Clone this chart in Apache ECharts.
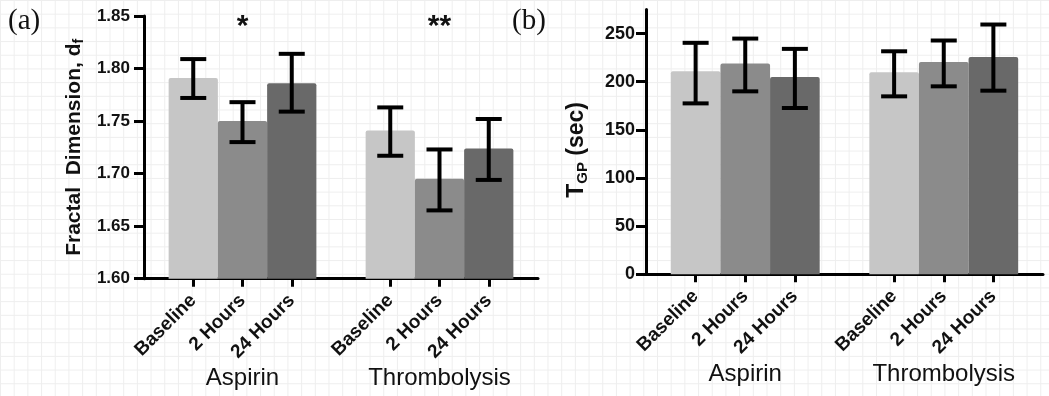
<!DOCTYPE html>
<html>
<head>
<meta charset="utf-8">
<script src="https://cdn.jsdelivr.net/npm/echarts@6/dist/echarts.min.js"></script>
<style>
html,body{margin:0;padding:0;}
body{
  width:1049px;height:396px;background:#fff;
  background-image:linear-gradient(#eeeeee 1px, transparent 1px),linear-gradient(90deg,#eeeeee 1px, transparent 1px);
  background-size:13.7px 13.7px;
}
#chart{width:1049px;height:396px;}
</style>
</head>
<body>
<div id="chart"></div>
<script>
// ---- data ----
var timePoints = ['Baseline', '2 Hours', '24 Hours'];
var groups = ['Aspirin', 'Thrombolysis'];
// panel (a): fractal dimension d_f (Aspirin x3, Thrombolysis x3)
var fdMean = [1.791, 1.750, 1.786, 1.741, 1.695, 1.724];
var fdLow  = [1.772, 1.730, 1.759, 1.717, 1.665, 1.694];
var fdHigh = [1.809, 1.768, 1.814, 1.763, 1.723, 1.752];
var fdSig  = ['', '*', '', '', '**', ''];
// panel (b): T_GP (sec)
var tgpMean = [210.8, 218.8, 205.0, 209.8, 220.6, 225.8];
var tgpLow  = [177.5, 190.0, 172.7, 184.8, 195.2, 190.7];
var tgpHigh = [240.4, 244.8, 234.1, 231.6, 242.8, 259.4];
var fdTicks = [1.60, 1.65, 1.70, 1.75, 1.80, 1.85];
var tgpTicks = [0, 50, 100, 150, 200, 250];

var barColors = ['#c6c6c6', '#8b8b8b', '#696969'];
var FONT = '"Liberation Sans", Arial, sans-serif';

// category slots: gap, 3 bars, gap, 3 bars, gap
var slots = ['gap0'];
var slotIndexOf = [];
groups.forEach(function (g, gi) {
  timePoints.forEach(function (t) {
    slotIndexOf.push(slots.length);
    slots.push(g + '|' + t);
  });
  slots.push('gap' + (gi + 1));
});
function isGap(v) { return String(v).indexOf('gap') === 0; }

function barData(mean) {
  var d = slots.map(function () { return null; });
  mean.forEach(function (v, i) {
    d[slotIndexOf[i]] = { value: v, itemStyle: { color: barColors[i % 3] } };
  });
  return d;
}
function errData(low, high, sig) {
  return low.map(function (l, i) { return [slotIndexOf[i], l, high[i], sig ? sig[i] : '']; });
}

function mainX(gridIndex) {
  return {
    type: 'category', gridIndex: gridIndex, data: slots, boundaryGap: false,
    axisLine: { show: true, lineStyle: { color: '#000', width: 3 } },
    axisTick: { show: true, length: 8, lineStyle: { color: '#000', width: 3 },
      interval: function (i, v) { return !isGap(v); } },
    axisLabel: { interval: function (i, v) { return !isGap(v); },
      formatter: function (v) { return isGap(v) ? '' : v.split('|')[1]; },
      rotate: 45, margin: 19, fontSize: 19, fontWeight: 'bold', color: '#111', fontFamily: FONT },
    splitLine: { show: false }
  };
}
function groupX(gridIndex) {
  return {
    type: 'category', gridIndex: gridIndex, data: groups, boundaryGap: true, position: 'bottom', offset: 88,
    axisLine: { show: false }, axisTick: { show: false }, splitLine: { show: false },
    axisLabel: { margin: 0, fontSize: 24, color: '#111', fontFamily: FONT }
  };
}

function errSeries(xi, yi, data) {
  return {
    type: 'custom', xAxisIndex: xi, yAxisIndex: yi, data: data, z: 5,
    renderItem: function (params, api) {
      var x = api.value(0);
      var lo = api.coord([x, api.value(1)]);
      var hi = api.coord([x, api.value(2)]);
      var half = 13;
      var st = { stroke: '#000', lineWidth: 4 };
      var children = [
        { type: 'line', shape: { x1: lo[0], y1: lo[1], x2: hi[0], y2: hi[1] }, style: st },
        { type: 'line', shape: { x1: lo[0] - half, y1: lo[1], x2: lo[0] + half, y2: lo[1] }, style: st },
        { type: 'line', shape: { x1: hi[0] - half, y1: hi[1], x2: hi[0] + half, y2: hi[1] }, style: st }
      ];
      var sig = data[params.dataIndex][3];
      if (sig) {
        var top = api.coord([x, 1.85]);
        children.push({ type: 'text', x: hi[0], y: top[1] - 4,
          style: { text: sig, fill: '#111', font: 'bold 30px ' + FONT, align: 'center', verticalAlign: 'top' } });
      }
      return { type: 'group', children: children };
    }
  };
}

var chart = echarts.init(document.getElementById('chart'), null, { renderer: 'canvas' });
chart.setOption({
  animation: false,
  grid: [
    { left: 144, top: 16, width: 394, height: 262.7 },
    { left: 646, top: 9.5, width: 397, height: 264.8 }
  ],
  xAxis: [mainX(0), groupX(0), mainX(1), groupX(1)],
  yAxis: [
    { type: 'value', gridIndex: 0, min: 1.60, max: 1.85, interval: 0.05,
      name: '{a|Fractal  Dimension, d}{s|f}', nameLocation: 'middle', nameGap: 58,
      nameTextStyle: { rich: {
        a: { fontSize: 21, fontWeight: 'bold', color: '#111', fontFamily: FONT, lineHeight: 24 },
        s: { fontSize: 14, fontWeight: 'bold', color: '#111', fontFamily: FONT, verticalAlign: 'bottom', lineHeight: 24 } } },
      axisLine: { show: true, lineStyle: { color: '#000', width: 3 } },
      axisTick: { show: true, length: 10, lineStyle: { color: '#000', width: 3 } },
      axisLabel: { margin: 14, fontSize: 17, fontWeight: 'bold', color: '#111', fontFamily: FONT,
        formatter: function (v) { return v.toFixed(2); } },
      splitLine: { show: false } },
    { type: 'value', gridIndex: 1, min: 0, max: 275, interval: 50,
      name: '{a|T}{s|GP}{a| (sec)}', nameLocation: 'middle', nameGap: 56,
      nameTextStyle: { padding: [0, 16, 0, 0], rich: {
        a: { fontSize: 23, fontWeight: 'bold', color: '#111', fontFamily: FONT, lineHeight: 26 },
        s: { fontSize: 15, fontWeight: 'bold', color: '#111', fontFamily: FONT, verticalAlign: 'bottom', lineHeight: 26 } } },
      axisLine: { show: true, lineStyle: { color: '#000', width: 3 } },
      axisTick: { show: true, length: 10, lineStyle: { color: '#000', width: 3 }, customValues: tgpTicks },
      axisLabel: { margin: 11, fontSize: 18, fontWeight: 'bold', color: '#111', fontFamily: FONT, customValues: tgpTicks },
      splitLine: { show: false } }
  ],
  series: [
    { type: 'bar', xAxisIndex: 0, yAxisIndex: 0, data: barData(fdMean), barWidth: '100%',
      itemStyle: { borderRadius: [2, 2, 0, 0] } },
    errSeries(0, 0, errData(fdLow, fdHigh, fdSig)),
    { type: 'bar', xAxisIndex: 2, yAxisIndex: 1, data: barData(tgpMean), barWidth: '100%',
      itemStyle: { borderRadius: [2, 2, 0, 0] } },
    errSeries(2, 1, errData(tgpLow, tgpHigh, null))
  ],
  graphic: [
    { type: 'text', left: 8, top: 7, style: { text: '(a)', font: '29px "Liberation Serif", "DejaVu Serif", serif', fill: '#111' } },
    { type: 'text', left: 512, top: 7, style: { text: '(b)', font: '29px "Liberation Serif", "DejaVu Serif", serif', fill: '#111' } }
  ]
});
</script>
</body>
</html>
